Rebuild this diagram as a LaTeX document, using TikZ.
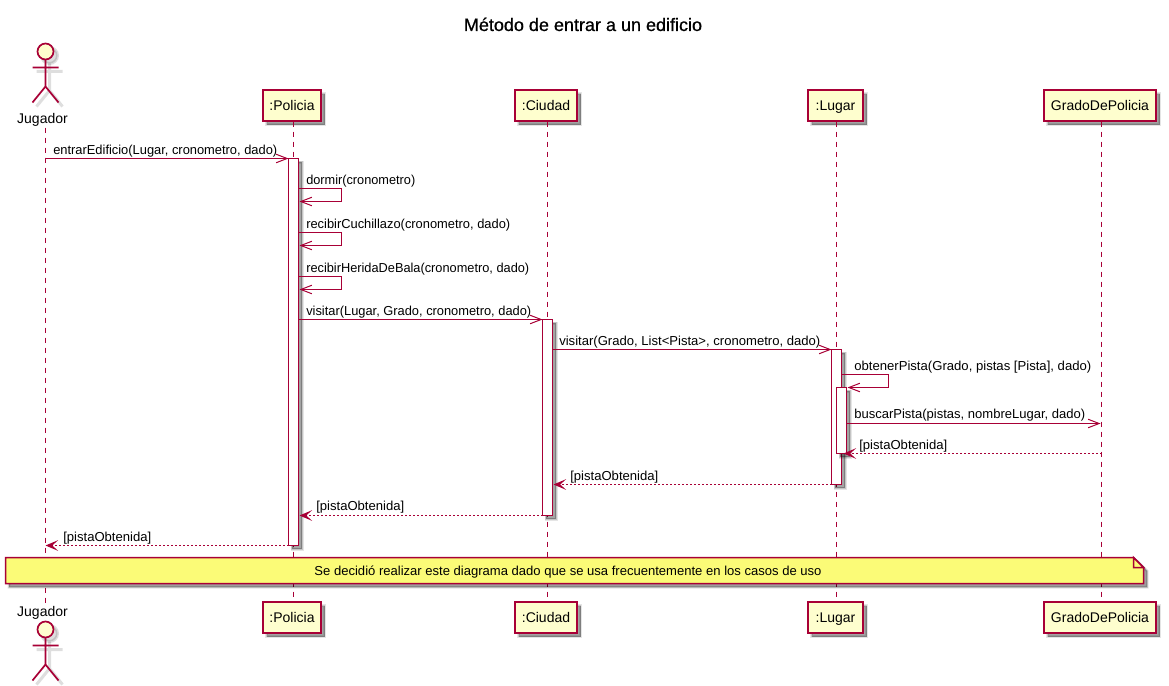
\documentclass[tikz,border=0pt]{standalone}
\usepackage{graphicx}
\usepackage{fontspec}
\setmainfont{Liberation Sans}
\newfontfamily\titlefont[FakeBold=0.7]{Liberation Sans}
\usetikzlibrary{shadows,arrows.meta,calc}
\definecolor{umlred}{HTML}{A80036}
\definecolor{umlfill}{HTML}{FEFECE}
\definecolor{notefill}{HTML}{FBFB77}
\newlength{\px}\setlength{\px}{0.75pt}
\newcommand{\fitw}[2]{\resizebox{#1\px}{\height}{#2}}
\tikzset{
 softshadow/.style={
  drop shadow={shadow xshift=3.5\px,shadow yshift=-3.5\px,fill=black,draw=black,opacity=.10,line width=3\px},
  drop shadow={shadow xshift=3.5\px,shadow yshift=-3.5\px,fill=black,draw=black,opacity=.14,line width=1.5\px},
  drop shadow={shadow xshift=3.5\px,shadow yshift=-3.5\px,fill=black,draw=none,opacity=.16}},
 partbox/.style={draw=umlred,fill=umlfill,line width=2\px,minimum height=31\px,inner sep=0pt,
   font=\fontsize{10.5pt}{12pt}\selectfont,text height=8pt,text depth=0pt,softshadow},
 actorname/.style={font=\fontsize{10.5pt}{12pt}\selectfont,inner sep=0pt,anchor=base},
 lifeline/.style={draw=umlred,line width=1\px,dash pattern=on 5\px off 5\px},
 activation/.style={draw=umlred,fill=white,line width=1.2\px,minimum width=10\px,inner sep=0pt,softshadow},
 msg/.style={draw=umlred,line width=1\px,-{Straight Barb[length=8.25pt,width=6.4pt,line width=.75pt]}},
 retmsg/.style={draw=umlred,line width=1.2\px,dash pattern=on 2\px off 2\px,-{Stealth[length=9.5pt,width=8pt,inset=4.5pt]}},
 msgtext/.style={font=\fontsize{9.75pt}{11pt}\selectfont,inner sep=0pt,anchor=base west},
 actorstroke/.style={draw=umlred,line width=1.7\px,fill=umlfill},
 actorshadow/.style={draw=black,opacity=.13,line width=3\px,fill=black},
 notetext/.style={font=\fontsize{9.75pt}{11pt}\selectfont,inner sep=0pt,anchor=base},
}
\newcommand{\umlactor}[2]{% head centre x,y
 \begin{scope}[shift={(#1,#2)}]
  \begin{scope}[shift={(4,4)}]
   \draw[actorshadow] (0,0) circle (8);
   \draw[actorshadow,fill=none] (0,8)--(0,35) (-13,16)--(13,16) (-13,51)--(0,35)--(13,51);
  \end{scope}
  \draw[actorstroke] (0,0) circle (8);
  \draw[actorstroke,fill=none] (0,8)--(0,35) (-13,16)--(13,16) (-13,51)--(0,35)--(13,51);
 \end{scope}}
\begin{document}
\begin{tikzpicture}[x=\px,y=-\px]
\useasboundingbox (0,0) rectangle (1169,685);
\fill[white] (0,0) rectangle (1169,685);
\node[font=\titlefont\fontsize{13.5pt}{16pt}\selectfont,inner sep=0pt,anchor=base] (title) at (583,31) {Método de entrar a un edificio};
\begin{scope}[shift={(.5,.5)}]
% lifelines ends
\node[inner sep=0pt] (jt) at (45,127) {};
\node[inner sep=0pt] (jb) at (45,602) {};
\node[partbox,minimum width=58\px] (pt) at (291.5,105) {:Policia};
\node[partbox,minimum width=58\px] (pb) at (291.5,617) {:Policia};
\node[partbox,minimum width=62\px] (ct) at (545.5,105) {:Ciudad};
\node[partbox,minimum width=62\px] (cb) at (545.5,617) {:Ciudad};
\node[partbox,minimum width=55\px] (lt) at (835,105) {:Lugar};
\node[partbox,minimum width=55\px] (lb) at (835,617) {:Lugar};
\node[partbox,minimum width=112\px] (gt) at (1099.5,105) {GradoDePolicia};
\node[partbox,minimum width=112\px] (gb) at (1099.5,617) {GradoDePolicia};
\coordinate (Pt) at (293,121); \coordinate (Pb) at (293,601);
\coordinate (Ct) at (547,121); \coordinate (Cb) at (547,601);
\coordinate (Lt) at (836,121); \coordinate (Lb) at (836,601);
\coordinate (Gt) at (1101,121); \coordinate (Gb) at (1101,601);
\draw[lifeline] (jt.center) -- (jb.center);
\draw[lifeline] (Pt) -- (Pb);
\draw[lifeline] (Ct) -- (Cb);
\draw[lifeline] (Lt) -- (Lb);
\draw[lifeline] (Gt) -- (Gb);
% actors
\umlactor{45}{51}
\node[actorname] (jn1) at (42,123) {Jugador};
\node[actorname] (jn2) at (42,616) {Jugador};
\umlactor{45}{629}
% activations
\node[activation,minimum height=387\px] (ap) at (293,351.5) {};
\node[activation,minimum height=196\px] (ac) at (547,417) {};
\node[activation,minimum height=135\px] (al) at (836,416.5) {};
\node[activation,minimum height=66\px] (al2) at (841,420) {};
% message endpoints
\coordinate (J1) at (45,158); \coordinate (P1) at (288,158);
\coordinate (P2a) at (298,188); \coordinate (P2b) at (341,188); \coordinate (P2c) at (341,201); \coordinate (P2d) at (299,201);
\coordinate (P3a) at (298,232); \coordinate (P3b) at (341,232); \coordinate (P3c) at (341,245); \coordinate (P3d) at (299,245);
\coordinate (P4a) at (298,276); \coordinate (P4b) at (341,276); \coordinate (P4c) at (341,289); \coordinate (P4d) at (299,289);
\coordinate (P5) at (298,319); \coordinate (C5) at (542,319);
\coordinate (C6) at (552,349); \coordinate (L6) at (831,349);
\coordinate (L7a) at (841,374); \coordinate (L7b) at (888,374); \coordinate (L7c) at (888,387); \coordinate (L7d) at (847,387);
\coordinate (L8) at (846,423); \coordinate (G8) at (1100,423);
\coordinate (G9) at (1101,453); \coordinate (L9) at (843,453);
\coordinate (L10) at (831,484); \coordinate (C10) at (553,484);
\coordinate (C11) at (542,515); \coordinate (P11) at (299,515);
\coordinate (P12) at (288,545); \coordinate (J12) at (45,545);
\draw[msg] (J1) -- (P1);
\draw[msg] (P2a) -- (P2b) -- (P2c) -- (P2d);
\draw[msg] (P3a) -- (P3b) -- (P3c) -- (P3d);
\draw[msg] (P4a) -- (P4b) -- (P4c) -- (P4d);
\draw[msg] (P5) -- (C5);
\draw[msg] (C6) -- (L6);
\draw[msg] (L7a) -- (L7b) -- (L7c) -- (L7d);
\draw[msg] (L8) -- (G8);
\draw[retmsg] (G9) -- (L9);
\draw[retmsg] (L10) -- (C10);
\draw[retmsg] (C11) -- (P11);
\draw[retmsg] (P12) -- (J12);
% note
\path[draw=umlred,fill=notefill,line width=1.5\px,softshadow] (5,557) -- (1133,557) -- (1143,567) -- (1143,583) -- (5,583) -- cycle;
\draw[draw=umlred,fill=notefill,line width=1.5\px] (1133,557) -- (1133,567) -- (1143,567) -- cycle;
\end{scope}
% labels
\node[msgtext] (t1) at (53,154) {\fitw{224}{entrarEdificio(Lugar, cronometro, dado)}};
\node[msgtext] (t2) at (306,184) {\fitw{109}{dormir(cronometro)}};
\node[msgtext] (t3) at (306,228) {\fitw{204}{recibirCuchillazo(cronometro, dado)}};
\node[msgtext] (t4) at (306,272) {\fitw{223}{recibirHeridaDeBala(cronometro, dado)}};
\node[msgtext] (t5) at (306,315) {\fitw{225}{visitar(Lugar, Grado, cronometro, dado)}};
\node[msgtext] (t6) at (559,345) {\fitw{261}{visitar(Grado, List<Pista>, cronometro, dado)}};
\node[msgtext] (t7) at (854,370) {\fitw{237}{obtenerPista(Grado, pistas [Pista], dado)}};
\node[msgtext] (t8) at (854,418) {\fitw{231}{buscarPista(pistas, nombreLugar, dado)}};
\node[msgtext] (t9) at (859,449) {\fitw{88}{[pistaObtenida]}};
\node[msgtext] (t10) at (570,480) {\fitw{88}{[pistaObtenida]}};
\node[msgtext] (t11) at (316,510) {\fitw{88}{[pistaObtenida]}};
\node[msgtext] (t12) at (63,541) {\fitw{88}{[pistaObtenida]}};
\node[notetext] (note) at (568,575) {\fitw{507}{Se decidió realizar este diagrama dado que se usa frecuentemente en los casos de uso}};
\end{tikzpicture}
\end{document}
